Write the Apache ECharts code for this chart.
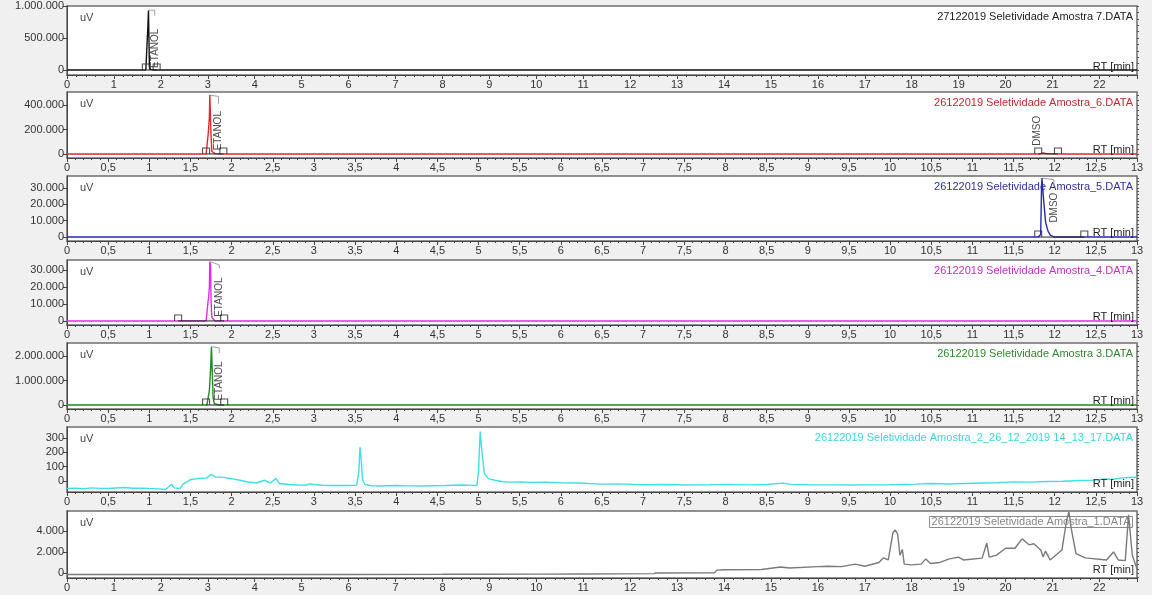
<!DOCTYPE html>
<html>
<head>
<meta charset="utf-8">
<script src="https://cdn.jsdelivr.net/npm/echarts@6/dist/echarts.min.js"></script>
<style>
html,body{margin:0;padding:0;background:#f0f0f0;}
#c{width:1152px;height:595px;}
</style>
</head>
<body>
<div id="c"></div>
<script>
// ---------------- DATA ----------------
const titles = [
  '27122019 Seletividade Amostra 7.DATA',
  '26122019 Seletividade Amostra_6.DATA',
  '26122019 Seletividade Amostra_5.DATA',
  '26122019 Seletividade Amostra_4.DATA',
  '26122019 Seletividade Amostra 3.DATA',
  '26122019 Seletividade Amostra_2_26_12_2019 14_13_17.DATA',
  '26122019 Seletividade Amostra_1.DATA'
];

// signal traces [RT min, uV]
const sample7 = [[0,0],[1.68,0],[1.71,5000],[1.722,660000],[1.73,690000],[1.736,930000],[1.746,935000],[1.756,60000],[1.78,10000],[1.85,0],[22.8,0]];
const sample6 = [[0,0],[1.69,0],[1.71,2000],[1.715,160000],[1.72,170000],[1.73,300000],[1.735,482000],[1.742,470000],[1.75,150000],[1.76,20000],[1.8,3000],[1.9,0],[11.8,0],[11.83,3000],[11.86,9000],[11.89,4000],[11.95,500],[12.1,0],[13,0]];
const sample5 = [[0,0],[1.1,0],[1.12,700],[1.14,0],[11.8,0],[11.83,1500],[11.84,30000],[11.845,36000],[11.855,35000],[11.87,20000],[11.89,9000],[11.92,3500],[11.95,1000],[12.0,0],[13,0]];
const sample4 = [[0,0],[1.69,0],[1.71,500],[1.715,12000],[1.72,13500],[1.73,20000],[1.735,34900],[1.745,33000],[1.75,12000],[1.76,2000],[1.8,0],[13,0]];
const sample3 = [[0,0],[1.7,0],[1.72,50000],[1.73,600000],[1.745,1500000],[1.755,2380000],[1.765,2300000],[1.775,300000],[1.79,50000],[1.85,0],[13,0]];
const sample2 = [[0,-53],[0.1,-50],[0.2,-54],[0.3,-48],[0.4,-52],[0.5,-53],[0.6,-49],[0.7,-46],[0.8,-51],[0.9,-50],[1.0,-53],[1.1,-55],[1.2,-58],[1.27,-23],[1.3,-48],[1.37,-53],[1.42,-18],[1.5,9],[1.6,18],[1.7,21],[1.75,46],[1.8,28],[1.9,25],[2.0,16],[2.1,5],[2.2,-7],[2.3,-14],[2.4,5],[2.47,-14],[2.54,18],[2.58,-18],[2.7,-25],[2.8,-28],[2.9,-30],[2.95,-20],[3.0,-25],[3.1,-30],[3.2,-32],[3.3,-31],[3.4,-32],[3.52,-30],[3.545,60],[3.56,235],[3.575,150],[3.59,10],[3.62,-25],[3.7,-33],[3.8,-35],[3.9,-33],[4.0,-32],[4.15,-34],[4.3,-35],[4.45,-33],[4.6,-32],[4.7,-30],[4.8,-28],[4.9,-31],[4.98,-32],[5.0,74],[5.02,345],[5.04,212],[5.07,51],[5.12,16],[5.2,5],[5.3,-5],[5.4,-8],[5.5,-7],[5.65,-10],[5.8,-9],[6.0,-12],[6.2,-14],[6.5,-22],[6.7,-20],[7.0,-26],[7.3,-25],[7.5,-28],[7.8,-26],[8.0,-24],[8.3,-27],[8.5,-25],[8.7,-15],[8.8,-24],[9.0,-26],[9.3,-27],[9.5,-28],[9.8,-27],[10.0,-26],[10.3,-22],[10.5,-18],[10.7,-21],[11.0,-16],[11.3,-12],[11.5,-6],[11.7,-8],[11.9,-4],[12.1,-2],[12.3,3],[12.5,6],[12.6,14],[12.7,10],[12.8,20],[12.9,24],[13.0,26]];
const sample1 = [[0,-150],[2,-150],[4,-140],[6,-140],[8,-130],[8.9,-120],[10,-110],[11,-100],[12.5,-60],[12.55,0],[13.8,20],[13.85,270],[14.0,300],[14.8,335],[15.2,570],[15.4,470],[16.0,600],[16.2,640],[16.5,600],[16.8,840],[17.0,640],[17.3,1000],[17.4,1440],[17.5,1240],[17.6,3850],[17.65,4090],[17.7,3690],[17.75,1680],[17.8,2240],[17.84,840],[18.0,770],[18.2,840],[18.3,1340],[18.4,900],[18.6,1000],[18.8,1340],[19.0,1510],[19.1,1240],[19.5,1410],[19.6,2850],[19.65,1510],[19.8,1680],[20.0,2350],[20.2,2350],[20.35,3250],[20.5,2680],[20.6,2780],[20.75,2180],[20.8,1510],[20.85,2080],[20.95,1240],[21.2,2180],[21.3,5020],[21.35,5800],[21.4,4190],[21.5,1840],[21.7,1440],[22.15,1240],[22.3,2000],[22.4,1240],[22.55,1170],[22.62,5530],[22.7,1680],[22.8,380]];

// integration markers (RT min)
const marks7 = [1.68, 1.91];
const marks6 = [1.69, 1.90, 11.80, 12.04];
const marks5 = [11.80, 12.36];
const marks4 = [1.35, 1.91];
const marks3 = [1.69, 1.91];
const marks2 = [];
const marks1 = [];

// peak name brackets [RT, uV]
const bracket7 = [[1.746,935000],[1.87,935000],[1.87,850000]];
const bracket6 = [[1.74,480000],[1.84,470000],[1.84,410000]];
const bracket5 = [[11.855,36000],[11.99,35000],[11.99,31000]];
const bracket4 = [[1.74,34900],[1.85,33000],[1.85,31000]];
const bracket3 = [[1.76,2380000],[1.85,2330000],[1.85,2120000]];

// peak names [RT, uV at label centre, name]
const names7 = [[1.87, 340000, 'ETANOL']];
const names6 = [[1.84, 190000, 'ETANOL'], [11.79, 190000, 'DMSO']];
const names5 = [[12.0, 18000, 'DMSO']];
const names4 = [[1.85, 14000, 'ETANOL']];
const names3 = [[1.85, 980000, 'ETANOL']];

// y tick labels
const yTicks7 = [0, 500000, 1000000];
const yTicks6 = [0, 200000, 400000];
const yTicks5 = [0, 10000, 20000, 30000];
const yTicks4 = [0, 10000, 20000, 30000];
const yTicks3 = [0, 1000000, 2000000];
const yTicks2 = [0, 100, 200, 300];
const yTicks1 = [0, 2000, 4000];

// ---------------- LAYOUT / STYLE ----------------
const FONT = '"Liberation Sans", Arial, sans-serif';
const panels = [
  {data: sample7, marks: marks7, bracket: bracket7, names: names7, ticks: yTicks7, minorStep: 100000, color: '#111111', tcolor: '#222222', top: 6, axisY: 75, min: -78000, max: 1000000, xMax: 22.8, xInt: 1},
  {data: sample6, marks: marks6, bracket: bracket6, names: names6, ticks: yTicks6, minorStep: 40000, color: '#e02828', tcolor: '#c4282c', top: 92, axisY: 158, min: -33000, max: 506000, xMax: 13, xInt: 0.5},
  {data: sample5, marks: marks5, bracket: bracket5, names: names5, ticks: yTicks5, minorStep: 2000, color: '#2828b8', tcolor: '#30309c', top: 176, axisY: 241, min: -2400, max: 37300, xMax: 13, xInt: 0.5},
  {data: sample4, marks: marks4, bracket: bracket4, names: names4, ticks: yTicks4, minorStep: 2000, color: '#e02ce0', tcolor: '#c030c0', top: 260, axisY: 325, min: -2400, max: 35900, xMax: 13, xInt: 0.5},
  {data: sample3, marks: marks3, bracket: bracket3, names: names3, ticks: yTicks3, minorStep: 200000, color: '#1e8c1e', tcolor: '#2a8a2a', top: 343, axisY: 409, min: -163000, max: 2530000, xMax: 13, xInt: 0.5},
  {data: sample2, marks: marks2, bracket: [], names: [], ticks: yTicks2, minorStep: 20, color: '#3ee0e6', tcolor: '#3ad6de', top: 427, axisY: 492, min: -77, max: 377, xMax: 13, xInt: 0.5},
  {data: sample1, marks: marks1, bracket: [], names: [], ticks: yTicks1, minorStep: 400, color: '#7a7a7a', tcolor: '#888888', top: 511, axisY: 578, min: -480, max: 5900, xMax: 22.8, xInt: 1, boxed: true}
];

const H = 595, LEFT = 67, RIGHT = 1137;
const fmtY = v => String(v).replace(/\B(?=(\d{3})+(?!\d))/g, '.');
const fmtX = v => String(Math.round(v * 10) / 10).replace('.', ',');

const grid = [], xAxis = [], yAxis = [], series = [], graphic = [];

panels.forEach((p, i) => {
  grid.push({
    left: LEFT, right: 1152 - RIGHT, top: p.top, bottom: H - p.axisY,
    show: true, backgroundColor: '#ffffff', borderColor: '#6e6e6e', borderWidth: 1.5
  });
  const longAxis = p.xMax % p.xInt !== 0;
  xAxis.push({
    gridIndex: i, type: 'value', min: 0, max: p.xMax, interval: p.xInt,
    axisLine: {show: true, onZero: false, lineStyle: {color: '#444', width: 1}},
    axisTick: {show: true, inside: false, length: 4, lineStyle: {color: '#444'}},
    minorTick: {show: true, splitNumber: 5, length: 2, lineStyle: {color: '#444'}},
    splitLine: {show: false},
    axisLabel: {formatter: fmtX, fontSize: 11, color: '#333', fontFamily: FONT, margin: 4, showMaxLabel: !longAxis}
  });
  const minor = [];
  for (let v = 0; v <= p.max; v += p.minorStep) minor.push(v);
  for (let v = -p.minorStep; v >= p.min; v -= p.minorStep) minor.push(v);
  yAxis.push({
    gridIndex: i, type: 'value', min: p.min, max: p.max,
    axisLine: {show: true, lineStyle: {color: '#444'}},
    axisTick: {show: true, customValues: p.ticks, length: 4, lineStyle: {color: '#444'}},
    axisLabel: {show: true, customValues: p.ticks, formatter: fmtY, fontSize: 11, color: '#333', fontFamily: FONT, margin: 3},
    splitLine: {show: false}
  });
  yAxis.push({
    gridIndex: i, type: 'value', min: p.min, max: p.max,
    axisLine: {show: false},
    axisTick: {show: true, customValues: minor, length: 2, lineStyle: {color: '#555'}},
    axisLabel: {show: false},
    splitLine: {show: false}
  });
  const yi = 2 * i;
  series.push({
    type: 'line', xAxisIndex: i, yAxisIndex: yi, data: p.data, symbol: 'none',
    lineStyle: {color: p.color, width: 1.4}, silent: true, z: 3
  });
  if (p.marks.length) {
    const segs = [];
    for (let k = 0; k + 1 < p.marks.length; k += 2) {
      segs.push([p.marks[k], 0], [p.marks[k + 1], 0], [p.marks[k + 1], null]);
    }
    series.push({
      type: 'line', xAxisIndex: i, yAxisIndex: yi, data: segs, symbol: 'none', connectNulls: false,
      lineStyle: {color: '#222', width: 1}, silent: true, z: 4
    });
    series.push({
      type: 'scatter', xAxisIndex: i, yAxisIndex: yi, data: p.marks.map(x => [x, 0]),
      symbol: 'path://M0,10L0,0L10,0L10,10', symbolSize: [7, 6], symbolOffset: [0, -3],
      itemStyle: {color: 'rgba(0,0,0,0)', borderColor: '#222', borderWidth: 1}, silent: true, z: 5
    });
  }
  if (p.bracket.length) {
    series.push({
      type: 'line', xAxisIndex: i, yAxisIndex: yi, data: p.bracket, symbol: 'none',
      lineStyle: {color: '#a0a0a0', width: 1}, silent: true, z: 2
    });
  }
  if (p.names.length) {
    series.push({
      type: 'scatter', xAxisIndex: i, yAxisIndex: yi,
      data: p.names.map(d => ({value: [d[0], d[1]], name: d[2]})),
      symbolSize: 1, itemStyle: {color: 'rgba(0,0,0,0)'}, silent: true, z: 6,
      label: {show: true, formatter: '{b}', rotate: 90, position: 'inside', align: 'center', verticalAlign: 'middle',
              fontSize: 10, color: '#222', fontFamily: FONT}
    });
  }
  graphic.push({
    type: 'text', left: 80, top: p.top + 6, z: 10,
    style: {text: 'uV', fill: '#444', font: '11px ' + FONT}
  });
  const tStyle = {text: titles[i], fill: p.tcolor, font: '11px ' + FONT};
  if (p.boxed) { tStyle.borderColor = '#8a8a8a'; tStyle.borderWidth = 1; tStyle.padding = [0, 2, 0, 2]; }
  graphic.push({
    type: 'text', right: 1152 - 1133, top: p.top + 5, z: 1,
    style: tStyle
  });
  graphic.push({
    type: 'text', right: 1152 - 1134, top: p.axisY - 14, z: 10,
    style: {text: 'RT [min]', fill: '#222', font: '11px ' + FONT}
  });
});

const chart = echarts.init(document.getElementById('c'), null, {renderer: 'canvas'});
chart.setOption({
  backgroundColor: '#f0f0f0',
  animation: false,
  grid, xAxis, yAxis, series, graphic
});
</script>
</body>
</html>
